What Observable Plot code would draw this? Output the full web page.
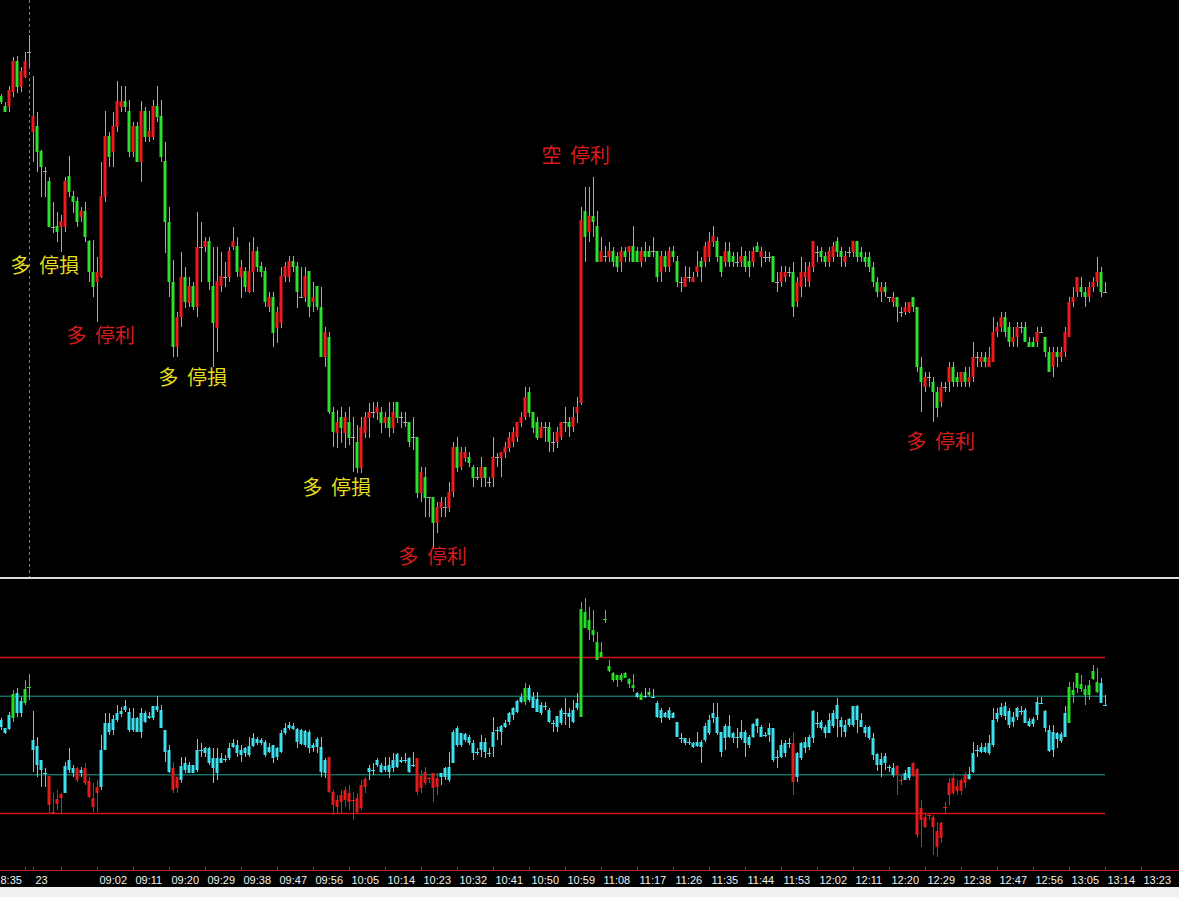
<!DOCTYPE html>
<html><head><meta charset="utf-8">
<script src="https://cdn.jsdelivr.net/npm/d3@7"></script>
<script src="https://cdn.jsdelivr.net/npm/@observablehq/plot@0.6"></script>
<style>
html,body{margin:0;padding:0;background:#f0f0f0;}
#chart{width:1179px;background:#000;}
#chart svg{display:block;}
#main text{word-spacing:4px;}
.sep{height:2px;background:#dcdcdc;}
</style></head><body>
<div id="chart"><div id="main"></div><div class="sep"></div><div id="osc"></div></div>
<script>
// ---- main price candles (1-minute bars) ----
const open = [3904,3894,3893,3908,3939,3913,3923,3948,3868,3874,
3849,3829,3819,3773,3774,3773,3773,3824,3804,3799,
3783,3789,3759,3728,3718,3723,3803,3864,3848,3873,
3893,3899,3889,3848,3874,3838,3889,3863,3863,3894,
3884,3839,3778,3718,3653,3683,3723,3697,3714,3693,
3753,3753,3759,3714,3672,3714,3723,3723,3753,3754,
3723,3729,3708,3728,3749,3734,3729,3693,3703,3672,
3677,3723,3723,3739,3734,3703,3703,3729,3698,3714,
3693,3643,3663,3588,3567,3583,3567,3578,3563,3558,
3532,3567,3582,3588,3587,3588,3577,3583,3572,3598,
3583,3578,3578,3563,3563,3507,3523,3503,3503,3477,
3492,3493,3492,3508,3553,3533,3542,3543,3533,3523,
3522,3533,3518,3522,3543,3542,3547,3552,3558,3563,
3577,3583,3608,3588,3578,3562,3573,3573,3558,3558,
3563,3578,3578,3573,3587,3597,3789,3768,3784,3774,
3738,3744,3743,3749,3744,3738,3749,3748,3754,3749,
3738,3749,3749,3749,3749,3728,3744,3733,3749,3739,
3718,3713,3723,3718,3728,3739,3738,3743,3758,3759,
3744,3738,3749,3744,3738,3738,3744,3739,3738,3754,
3743,3743,3743,3744,3718,3718,3723,3728,3728,3698,
3713,3723,3718,3733,3748,3749,3744,3738,3743,3759,
3749,3738,3748,3748,3759,3748,3743,3743,3733,3718,
3708,3713,3703,3698,3703,3688,3688,3688,3703,3693,
3633,3613,3623,3618,3608,3598,3613,3618,3633,3623,
3618,3628,3618,3623,3643,3638,3643,3633,3638,3668,
3673,3683,3673,3658,3663,3673,3673,3658,3658,3658,
3668,3663,3648,3633,3648,3643,3648,3663,3698,3708,
3713,3708,3703,3713,3718,3728,3708];
const high = [3906,3898,3914,3943,3944,3933,3948,3965,3924,3888,
3850,3833,3823,3798,3788,3785,3823,3844,3809,3803,
3793,3798,3760,3760,3743,3838,3889,3868,3888,3919,
3914,3914,3900,3878,3878,3899,3893,3889,3900,3914,
3900,3858,3793,3740,3688,3748,3733,3723,3718,3788,
3778,3763,3763,3753,3753,3748,3738,3753,3773,3763,
3740,3733,3758,3763,3753,3738,3733,3708,3708,3693,
3733,3738,3744,3744,3738,3733,3733,3729,3718,3714,
3713,3673,3668,3593,3590,3593,3588,3593,3583,3575,
3583,3588,3597,3598,3598,3593,3588,3598,3598,3598,
3588,3588,3578,3583,3563,3533,3533,3503,3503,3498,
3503,3503,3518,3558,3563,3553,3553,3548,3535,3533,
3543,3533,3523,3563,3547,3548,3558,3568,3573,3578,
3588,3613,3613,3588,3583,3578,3578,3578,3568,3573,
3578,3593,3583,3593,3603,3793,3813,3813,3823,3789,
3763,3754,3758,3753,3748,3753,3753,3754,3774,3753,
3753,3758,3754,3763,3749,3749,3749,3753,3754,3744,
3723,3734,3733,3728,3749,3743,3758,3768,3774,3763,
3744,3758,3758,3748,3748,3753,3749,3749,3753,3758,
3753,3749,3748,3744,3728,3734,3734,3733,3738,3723,
3743,3738,3738,3759,3754,3753,3748,3753,3758,3763,
3753,3749,3753,3759,3759,3753,3748,3748,3738,3723,
3718,3718,3703,3708,3703,3693,3698,3698,3703,3693,
3643,3628,3628,3623,3613,3618,3618,3638,3638,3628,
3628,3633,3633,3658,3648,3648,3648,3653,3683,3678,
3688,3688,3678,3673,3678,3678,3678,3663,3663,3673,
3673,3663,3653,3653,3653,3653,3673,3703,3713,3723,
3723,3713,3718,3723,3743,3733,3718];
const low = [3896,3888,3888,3903,3907,3908,3922,3933,3838,3828,
3803,3803,3773,3767,3758,3748,3768,3803,3787,3773,
3778,3758,3718,3703,3678,3722,3798,3833,3833,3868,
3888,3888,3843,3843,3838,3818,3858,3858,3860,3878,
3838,3747,3703,3643,3643,3673,3692,3693,3690,3683,
3718,3748,3710,3633,3648,3708,3713,3718,3750,3723,
3702,3708,3707,3708,3728,3723,3693,3688,3653,3657,
3672,3718,3718,3728,3692,3702,3698,3683,3688,3690,
3643,3633,3586,3553,3552,3557,3552,3555,3528,3527,
3527,3562,3562,3582,3580,3567,3572,3563,3567,3577,
3572,3573,3553,3550,3502,3498,3483,3483,3452,3467,
3483,3483,3488,3503,3528,3530,3538,3533,3513,3520,
3513,3513,3513,3513,3533,3523,3542,3548,3553,3558,
3573,3580,3583,3567,3560,3562,3558,3548,3548,3552,
3560,3568,3563,3568,3577,3595,3738,3758,3763,3738,
3738,3738,3738,3733,3728,3728,3738,3738,3738,3738,
3733,3738,3743,3743,3718,3718,3728,3728,3738,3713,
3708,3713,3718,3718,3723,3718,3733,3738,3753,3738,
3723,3733,3733,3733,3733,3733,3728,3723,3733,3748,
3733,3738,3738,3718,3708,3713,3718,3723,3683,3693,
3703,3713,3713,3728,3738,3738,3733,3733,3738,3743,
3733,3733,3743,3743,3738,3738,3733,3728,3713,3703,
3698,3703,3698,3693,3678,3683,3685,3687,3688,3628,
3588,3608,3613,3578,3583,3593,3608,3608,3613,3613,
3613,3613,3613,3618,3633,3633,3633,3633,3638,3663,
3668,3663,3653,3653,3653,3667,3658,3653,3653,3653,
3667,3643,3628,3623,3633,3638,3643,3663,3693,3703,
3703,3693,3698,3708,3713,3703,3708];
const close = [3898,3888,3910,3939,3913,3929,3939,3948,3884,3848,
3833,3829,3773,3773,3768,3779,3819,3808,3798,3778,
3789,3763,3728,3713,3728,3804,3864,3843,3874,3899,
3899,3893,3848,3874,3838,3889,3863,3869,3894,3883,
3843,3778,3718,3653,3683,3723,3698,3714,3693,3753,
3753,3759,3718,3677,3719,3724,3723,3749,3759,3728,
3733,3713,3729,3749,3733,3728,3698,3703,3667,3688,
3724,3734,3739,3733,3708,3703,3724,3693,3703,3693,
3643,3668,3588,3568,3578,3572,3583,3562,3563,3532,
3573,3583,3588,3588,3593,3577,3583,3572,3588,3582,
3583,3578,3558,3563,3507,3528,3502,3503,3477,3493,
3498,3493,3508,3553,3532,3548,3548,3537,3522,3523,
3533,3522,3518,3543,3543,3548,3553,3563,3568,3578,
3583,3603,3587,3572,3562,3573,3573,3558,3558,3568,
3578,3578,3573,3583,3593,3780,3763,3784,3778,3738,
3749,3744,3749,3738,3733,3749,3743,3754,3738,3738,
3749,3743,3743,3749,3723,3744,3733,3749,3743,3718,
3718,3723,3723,3723,3734,3733,3754,3759,3764,3743,
3728,3749,3738,3738,3738,3744,3733,3733,3749,3748,
3749,3743,3743,3718,3718,3728,3728,3728,3693,3718,
3728,3728,3734,3759,3748,3743,3738,3749,3754,3748,
3743,3744,3748,3759,3743,3743,3738,3733,3718,3708,
3713,3708,3703,3703,3693,3688,3693,3698,3693,3633,
3618,3623,3623,3608,3592,3613,3613,3633,3618,3618,
3628,3618,3623,3643,3643,3643,3638,3643,3668,3673,
3683,3668,3658,3663,3673,3673,3658,3653,3653,3668,
3668,3648,3628,3648,3643,3648,3668,3698,3703,3723,
3708,3703,3713,3718,3728,3708,3708];

// ---- oscillator candles (lower panel) ----
const oscOpen = [15,7,6,17,42,22,32,48,-15,-11,
-25,-38,-41,-77,-64,-63,-58,-25,-33,-33,
-38,-33,-46,-63,-58,-52,-15,12,5,15,
21,29,23,5,17,3,22,17,17,29,
25,5,-15,-33,-53,-45,-28,-38,-30,-35,
-15,-18,-13,-23,-38,-28,-24,-23,-12,-10,
-20,-13,-20,-11,-4,-5,-7,-17,-10,-22,
-17,2,7,9,6,-9,-10,3,-13,-4,
-12,-38,-22,-57,-72,-60,-65,-58,-65,-63,
-73,-52,-37,-35,-30,-30,-35,-30,-33,-19,
-27,-25,-23,-30,-23,-53,-37,-43,-38,-52,
-42,-42,-45,-28,7,-10,-5,-2,-8,-17,
-15,-7,-18,-12,5,3,8,13,20,23,
33,33,47,38,36,22,29,25,12,8,
12,22,22,13,27,18,123,105,105,93,
78,116,64,62,60,55,62,51,50,42,
35,39,43,38,32,17,22,17,22,13,
-3,-8,-7,-12,-11,-7,-5,2,17,18,
3,-3,9,2,-2,-3,3,-2,-2,16,
-2,0,0,7,-22,-22,-18,-8,-8,-42,
-23,-13,-12,-3,12,13,8,2,9,30,
15,3,10,10,29,15,8,8,-3,-19,
-30,-21,-32,-40,-31,-45,-45,-43,-28,-34,
-73,-92,-80,-82,-96,-103,-72,-60,-43,-51,
-56,-40,-44,-37,-15,-17,-12,-18,-10,16,
20,29,24,13,18,24,25,14,16,20,
32,24,5,-15,2,-6,-2,12,40,47,
51,46,40,56,43,52,30];
const oscHigh = [17,7,23,45,47,38,55,61,24,-2,
-25,-33,-41,-58,-55,-58,-27,-13,-30,-32,
-32,-28,-42,-48,-45,0,22,22,20,30,
28,35,27,27,18,27,24,23,29,39,
30,5,-10,-27,-42,-22,-22,-27,-30,-4,
-8,-12,-12,-13,-13,-18,-20,-8,-4,-5,
-10,-12,-2,2,-2,-3,-5,-8,-10,-12,
5,12,13,12,7,6,5,5,-8,-2,
-2,-23,-22,-55,-60,-55,-52,-50,-57,-58,
-45,-42,-30,-28,-23,-28,-22,-22,-18,-18,
-22,-18,-22,-17,-23,-35,-32,-42,-38,-38,
-38,-32,-17,5,9,2,2,0,-5,-13,
0,-3,-13,18,8,10,15,23,28,35,
42,52,50,43,43,33,33,27,15,19,
27,37,27,35,42,133,137,128,125,103,
93,125,75,63,60,62,63,57,61,43,
43,47,47,46,34,27,23,28,23,13,
2,-3,-3,-7,3,-5,12,20,32,32,
3,11,20,3,7,15,5,0,12,17,
10,3,12,7,-15,-5,-5,-3,3,-17,
-7,-2,0,25,23,15,10,22,25,37,
18,15,17,29,30,22,10,9,2,-18,
-18,-18,-30,-28,-30,-40,-35,-32,-27,-33,
-65,-78,-78,-80,-87,-87,-67,-43,-38,-45,
-43,-37,-32,-7,-10,-8,-8,0,27,27,
32,33,27,23,28,29,27,17,18,38,
38,25,10,10,3,3,29,53,53,62,
60,50,55,70,67,57,40];
const oscLow = [5,1,5,13,18,18,30,35,-37,-42,
-52,-52,-78,-78,-75,-78,-58,-38,-42,-47,
-42,-50,-63,-77,-77,-55,-15,0,0,13,
18,23,3,3,3,-3,12,16,15,23,
7,-27,-38,-58,-58,-48,-38,-38,-38,-37,
-22,-22,-30,-48,-45,-28,-27,-25,-13,-22,
-27,-22,-22,-12,-10,-10,-22,-18,-28,-25,
-18,0,5,5,-13,-10,-12,-18,-17,-18,
-42,-43,-58,-80,-78,-78,-72,-75,-85,-78,
-75,-58,-45,-40,-32,-38,-37,-43,-37,-33,
-28,-28,-38,-32,-60,-58,-50,-48,-67,-60,
-50,-45,-47,-28,-12,-12,-7,-10,-25,-20,
-22,-23,-22,-22,-5,-10,7,10,15,22,
32,30,33,27,23,20,25,12,3,3,
10,10,7,12,25,18,107,95,93,75,
78,112,63,53,48,53,57,47,43,37,
35,37,38,37,17,12,17,15,17,-2,
-8,-10,-10,-13,-12,-28,-7,0,12,0,
-22,-15,-3,-8,-13,-5,-22,-13,-3,2,
-2,-2,-7,-27,-33,-23,-22,-13,-60,-47,
-25,-18,-15,-8,7,5,-3,2,7,-2,
-2,-2,8,8,2,8,-2,-5,-25,-36,
-42,-35,-37,-42,-60,-50,-45,-45,-42,-103,
-112,-93,-85,-120,-122,-108,-78,-70,-60,-60,
-60,-53,-45,-38,-22,-18,-18,-20,-12,13,
18,15,7,8,15,20,12,8,8,15,
32,3,-17,-22,-13,-8,-2,12,32,42,
43,30,35,55,42,32,29];
const oscClose = [8,2,20,41,22,34,46,48,-5,-30,
-35,-38,-70,-77,-69,-59,-31,-35,-38,-45,
-35,-48,-62,-72,-52,-15,12,3,16,22,
24,25,5,17,3,22,13,19,29,25,
7,-17,-37,-55,-42,-31,-35,-30,-38,-15,
-15,-13,-28,-33,-23,-23,-24,-13,-8,-18,
-15,-18,-11,-3,-8,-8,-20,-12,-23,-13,
2,7,10,6,-7,5,4,-13,-10,-12,
-37,-25,-57,-70,-65,-67,-55,-67,-65,-77,
-50,-44,-33,-35,-25,-37,-31,-37,-25,-32,
-25,-25,-37,-30,-57,-41,-48,-43,-53,-43,
-38,-33,-32,3,-10,2,1,-8,-18,-17,
-7,-17,-18,3,5,9,12,22,27,34,
38,47,35,27,23,30,29,13,12,19,
25,22,18,25,32,126,107,115,100,75,
83,116,69,55,55,60,57,56,47,38,
41,39,40,38,18,25,18,25,17,-2,
-3,-3,-7,-8,-7,-12,9,15,22,2,
-17,9,-2,-3,-2,3,-8,-10,11,9,
8,0,7,-25,-22,-10,-8,-8,-47,-18,
-8,-7,-2,24,12,7,2,15,22,16,
8,10,16,29,15,8,2,-3,-20,-30,
-24,-28,-32,-33,-40,-45,-38,-32,-41,-100,
-85,-82,-80,-92,-112,-88,-72,-48,-58,-56,
-45,-48,-39,-18,-15,-12,-17,-8,15,22,
28,19,10,18,27,24,12,9,11,33,
32,7,-16,3,-4,1,22,48,45,62,
46,40,50,64,53,32,30];
const outerLevels = [78, -78];
const innerLevels = [39.3, -39.3];

// ---- axis labels (one label every 9 bars) ----
const timeLabels = ["8:35","","","09:02","09:11","09:20","09:29","09:38","09:47","09:56",
"10:05","10:14","10:23","10:32","10:41","10:50","10:59","11:08","11:17","11:26",
"11:35","11:44","11:53","12:02","12:11","12:20","12:29","12:38","12:47","12:56",
"13:05","13:14","13:23"];
const firstLabelBar = -3, barsPerLabel = 9;
const daySeparatorBar = 7, dayLabelBar = 8, dayLabel = "23";

// ---- trade annotations ----
const noteText = ["多 停損","多 停利","多 停損","多 停損","多 停利","空 停利","多 停利"];
const noteBar = [2.25, 16.25, 39.25, 75.25, 99.25, 135, 226.25];
const notePrice = [3734, 3664, 3622, 3512, 3443, 3844, 3558];

// ---- styles ----
const UP = "#ee1c1c", DOWN = "#2ee02e", WICK = "#a8a8a8";
const CYAN = "#3ee0ee", OGREEN = "#26dc26", ORED = "#e41b1b";
const LINE_RED = "#d41414", LINE_TEAL = "#1fa393";
const xDomain = [-0.25, 294.5];

const bars = close.map((c, i) => ({i, o: open[i], h: high[i], l: low[i], c}));
const osc = oscClose.map((c, i) => ({i, o: oscOpen[i], h: oscHigh[i], l: oscLow[i], c,
  col: c > innerLevels[0] ? OGREEN : (c < innerLevels[1] ? ORED : CYAN)}));
const notes = noteText.map((t, k) => ({t, bar: noteBar[k], price: notePrice[k]}));
const ticks = timeLabels.map((t, k) => ({bar: firstLabelBar + barsPerLabel * k, t}));
const tickTexts = ticks.slice(1).concat([{bar: dayLabelBar, t: dayLabel}]);
// the first (clipped) label is kept inside the left edge
const edgeText = [{bar: xDomain[0], t: timeLabels[0]}];
ticks.push({bar: dayLabelBar, t: dayLabel});
const lastBar = osc.length - 1;

const main = Plot.plot({
  width: 1179, height: 577, margin: 0,
  x: {domain: xDomain, axis: null},
  y: {domain: [3423, 4000], axis: null},
  color: {type: "identity"},
  style: {background: "#000"},
  marks: [
    Plot.ruleX([daySeparatorBar], {stroke: "#808080", strokeDasharray: "3,3"}),
    Plot.ruleX(bars, {x: "i", y1: "l", y2: "h", stroke: WICK}),
    Plot.rect(bars.filter(d => d.o !== d.c), {x1: d => d.i - 0.375, x2: d => d.i + 0.375, y1: "o", y2: "c",
      fill: d => d.c > d.o ? UP : DOWN}),
    Plot.ruleY(bars.filter(d => d.o === d.c), {y: "c", x1: d => d.i - 0.5, x2: d => d.i + 0.5, stroke: WICK}),
    Plot.text(notes, {x: "bar", y: "price", text: "t", textAnchor: "start",
      fill: d => d.t.includes("損") ? "#e6df1e" : "#d81c1c",
      fontSize: 20, fontFamily: "Noto Sans CJK TC, Noto Sans CJK SC, sans-serif"})
  ]
});
document.getElementById("main").appendChild(main);

const lower = Plot.plot({
  width: 1179, height: 308, marginTop: 0, marginLeft: 0, marginRight: 0, marginBottom: 17,
  x: {domain: xDomain, axis: null},
  y: {domain: [-135, 156], axis: null},
  style: {background: "#000"},
  color: {type: "identity"},
  marks: [
    Plot.ruleY(innerLevels, {x1: xDomain[0], x2: lastBar, stroke: LINE_TEAL}),
    Plot.ruleY(outerLevels, {x1: xDomain[0], x2: lastBar, stroke: LINE_RED, strokeWidth: 1.5}),
    Plot.ruleX(osc, {x: "i", y1: "l", y2: "h", stroke: "col"}),
    Plot.rect(osc.filter(d => d.o !== d.c), {x1: d => d.i - 0.375, x2: d => d.i + 0.375, y1: "o", y2: "c", fill: "col"}),
    Plot.ruleY(osc.filter(d => d.o === d.c), {y: "c", x1: d => d.i - 0.5, x2: d => d.i + 0.5, stroke: "col"}),
    Plot.ruleY([-135], {stroke: "#c81e1e"}),
    Plot.ruleX(ticks, {x: "bar", y1: -135, y2: -132, stroke: "#c81e1e"}),
    Plot.text(tickTexts, {x: "bar", y: -135, text: "t", textAnchor: "start", dx: 2, dy: 10,
      fill: "#f0f0f0", fontSize: 11, fontFamily: "Liberation Sans, Arial, sans-serif"}),
    Plot.text(edgeText, {x: "bar", y: -135, text: "t", textAnchor: "start", dx: 0, dy: 10,
      fill: "#f0f0f0", fontSize: 11, fontFamily: "Liberation Sans, Arial, sans-serif"})
  ]
});
document.getElementById("osc").appendChild(lower);
</script>
</body></html>
